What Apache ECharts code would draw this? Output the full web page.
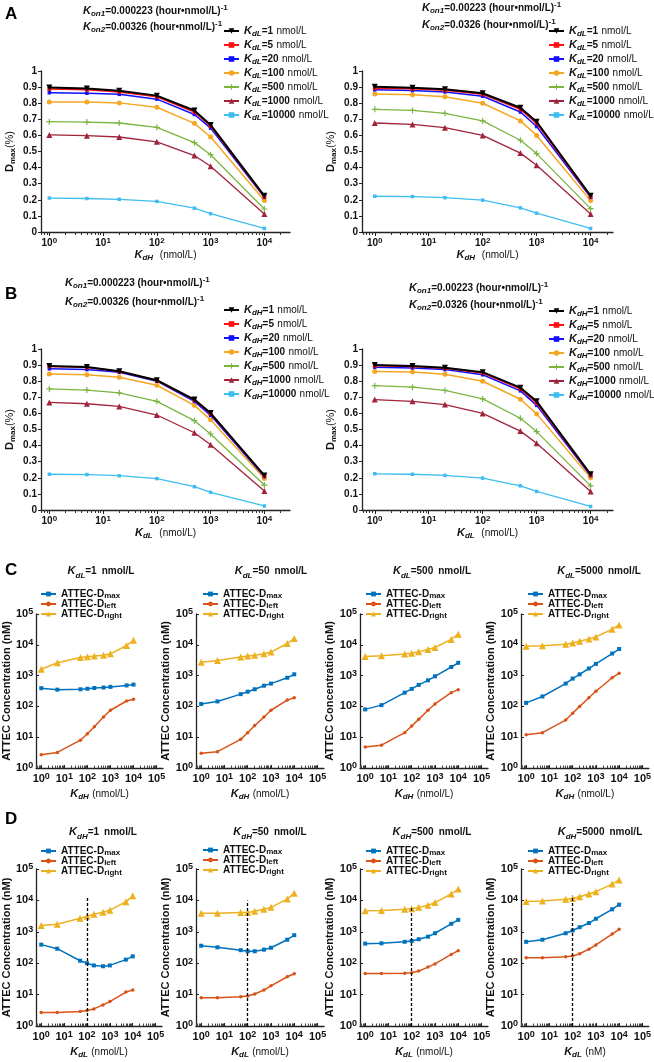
<!DOCTYPE html>
<html><head><meta charset="utf-8">
<script src="https://cdn.jsdelivr.net/npm/echarts@6/dist/echarts.min.js"></script>
<style>html,body{margin:0;padding:0;background:#fff}#c{width:654px;height:1062px}</style>
</head><body><div id="c"></div>
<script>
// ---------------- DATA ----------------
const kdX = [1, 5, 20, 100, 500, 1000, 10000];            // x values, panels A & B
const kdLegendVals = ['1', '5', '20', '100', '500', '1000', '10000'];
const concX = [1, 5, 50, 100, 200, 500, 1000, 5000, 10000]; // x values, panels C & D
const cTitleVals = ['1', '50', '500', '5000'];               // KdL for C
const dTitleVals = ['1', '50', '500', '5000'];               // KdH for D
const konA1 = ['0.000223', '0.00326'];
const konA2 = ['0.00223', '0.0326'];
const konB1 = ['0.000223', '0.00326'];
const konB2 = ['0.00223', '0.0326'];
const dashedKdL = 100;
const dashedTop = [13000, 10000, 6500, 14000];

// Dmax, rows in legend order (1,5,20,100,500,1000,10000)
const A1 = [
  [0.898, 0.892, 0.878, 0.847, 0.755, 0.665, 0.225],
  [0.888, 0.884, 0.870, 0.840, 0.745, 0.658, 0.220],
  [0.865, 0.862, 0.855, 0.825, 0.730, 0.645, 0.215],
  [0.808, 0.808, 0.802, 0.775, 0.675, 0.590, 0.195],
  [0.685, 0.683, 0.677, 0.650, 0.555, 0.480, 0.143],
  [0.603, 0.598, 0.590, 0.560, 0.475, 0.408, 0.112],
  [0.211, 0.208, 0.203, 0.190, 0.148, 0.114, 0.022]
];
const A2 = [
  [0.902, 0.896, 0.886, 0.862, 0.772, 0.685, 0.225],
  [0.893, 0.889, 0.880, 0.855, 0.762, 0.675, 0.220],
  [0.883, 0.879, 0.870, 0.843, 0.745, 0.655, 0.215],
  [0.857, 0.853, 0.840, 0.800, 0.690, 0.600, 0.195],
  [0.762, 0.755, 0.737, 0.690, 0.570, 0.487, 0.145],
  [0.677, 0.668, 0.648, 0.600, 0.490, 0.415, 0.112],
  [0.222, 0.220, 0.213, 0.198, 0.150, 0.117, 0.022]
];
const B1 = [
  [0.895, 0.888, 0.862, 0.806, 0.686, 0.602, 0.215],
  [0.892, 0.886, 0.860, 0.804, 0.683, 0.598, 0.212],
  [0.877, 0.872, 0.855, 0.800, 0.675, 0.588, 0.207],
  [0.845, 0.840, 0.825, 0.775, 0.650, 0.560, 0.195],
  [0.752, 0.745, 0.728, 0.675, 0.555, 0.472, 0.155],
  [0.668, 0.660, 0.643, 0.590, 0.480, 0.405, 0.118],
  [0.222, 0.220, 0.213, 0.195, 0.145, 0.110, 0.025]
];
const B2 = [
  [0.900, 0.895, 0.884, 0.856, 0.760, 0.675, 0.222],
  [0.896, 0.891, 0.880, 0.851, 0.752, 0.665, 0.218],
  [0.887, 0.882, 0.872, 0.840, 0.740, 0.650, 0.213],
  [0.860, 0.857, 0.843, 0.800, 0.688, 0.597, 0.200],
  [0.772, 0.763, 0.743, 0.690, 0.570, 0.487, 0.150],
  [0.686, 0.675, 0.655, 0.600, 0.490, 0.415, 0.115],
  [0.225, 0.222, 0.215, 0.198, 0.150, 0.115, 0.022]
];

// ATTEC concentrations (nM)
const C1_Dmax   = [390, 350, 360, 375, 395, 410, 430, 480, 510];
const C1_Dleft  = [2.7, 3.2, 8, 13, 22, 45, 75, 150, 170];
const C1_Dright = [1600, 2600, 3900, 4100, 4300, 4600, 5100, 9500, 14000];
const C2_Dmax   = [120, 145, 250, 300, 360, 470, 550, 850, 1100];
const C2_Dleft  = [3, 3.4, 8.5, 14, 24, 45, 75, 160, 190];
const C2_Dright = [2700, 3100, 4000, 4300, 4600, 5100, 5800, 11000, 16000];
const C3_Dmax   = [80, 110, 280, 370, 500, 700, 950, 1900, 2600];
const C3_Dleft  = [4.8, 5.5, 14, 23, 38, 75, 120, 280, 350];
const C3_Dright = [4200, 4400, 5000, 5300, 5900, 7000, 8200, 15000, 22000];
const C4_Dmax   = [130, 210, 550, 800, 1100, 1700, 2400, 5200, 7300];
const C4_Dleft  = [12, 14, 36, 60, 100, 190, 310, 850, 1200];
const C4_Dright = [9000, 9300, 10500, 11500, 13000, 15500, 18000, 32000, 44000];
const D1_Dmax   = [390, 290, 120, 100, 85, 80, 85, 130, 165];
const D1_Dleft  = [2.7, 2.7, 2.9, 3.1, 3.5, 4.7, 6, 12, 14];
const D1_Dright = [1600, 1750, 2700, 3100, 3600, 4200, 4900, 9000, 14000];
const D2_Dmax   = [360, 320, 260, 240, 240, 270, 310, 560, 780];
const D2_Dleft  = [8, 8, 8.5, 9, 10.5, 14, 19, 37, 46];
const D2_Dright = [3900, 3900, 4100, 4100, 4500, 5200, 6000, 11000, 17000];
const D3_Dmax   = [420, 430, 480, 510, 580, 700, 900, 1800, 2400];
const D3_Dleft  = [47, 47, 48, 50, 56, 75, 95, 190, 250];
const D3_Dright = [4700, 4800, 5200, 5400, 6000, 7000, 8500, 16000, 23000];
const D4_Dmax   = [480, 560, 900, 1100, 1400, 1900, 2600, 5200, 7300];
const D4_Dleft  = [150, 150, 160, 170, 200, 280, 380, 850, 1200];
const D4_Dright = [9200, 9500, 10800, 11500, 13000, 16000, 19000, 33000, 45000];

// ---------------- STYLE ----------------
const FONT = '"Liberation Sans", Arial, Helvetica, sans-serif';
const TXT = '#111';
const abColors = ['#000000', '#ff1010', '#1010ff', '#f5a623', '#7ab540', '#a1233b', '#3ebdf0'];
const abSym = [
  {s: 'triangle', z: 6, r: 180}, {s: 'rect', z: 4}, {s: 'rect', z: 3.5}, {s: 'circle', z: 5},
  {s: 'path://M4,0h2v4h4v2h-4v4h-2v-4h-4v-2h4z', z: 6}, {s: 'triangle', z: 6}, {s: 'rect', z: 3.5}
];
const abWidth = [2, 1.5, 1.5, 1.5, 1.3, 1.3, 1.3];
const cdColors = ['#0072BD', '#D95319', '#EDB120'];
const cdSym = [{s: 'rect', z: 4}, {s: 'circle', z: 3.5}, {s: 'triangle', z: 7}];

function mkRich(fs, lh, tBold, slhRatio) {
  const sub = Math.round(fs * 0.8);
  const slh = Math.max(1, Math.round(lh * (slhRatio || 0.42)));
  return {
    k: {fontFamily: FONT, fontSize: fs + 1, fontWeight: 'bold', fontStyle: 'italic', color: TXT, lineHeight: lh},
    s: {fontFamily: FONT, fontSize: sub, fontWeight: 'bold', fontStyle: 'italic', color: TXT, lineHeight: slh, verticalAlign: 'bottom'},
    b: {fontFamily: FONT, fontSize: fs, fontWeight: 'bold', color: TXT, lineHeight: lh},
    n: {fontFamily: FONT, fontSize: fs, color: TXT, lineHeight: lh},
    t: {fontFamily: FONT, fontSize: fs, fontWeight: tBold ? 'bold' : 'normal', color: TXT, lineHeight: lh},
    m: {fontFamily: FONT, fontSize: sub, fontWeight: tBold ? 'bold' : 'normal', color: TXT, lineHeight: slh, verticalAlign: 'bottom'},
    p: {fontFamily: FONT, fontSize: sub, fontWeight: 'bold', color: TXT, lineHeight: Math.round(lh * 0.42), verticalAlign: 'top'}
  };
}
function powLabel(v) { const e = Math.round(Math.log10(v)); return '{b|10}{p|' + e + '}'; }
function majors(min, max) { const o = []; for (let e = -2; e <= 7; e++) { const v = Math.pow(10, e); if (v >= min && v <= max) o.push(v); } return o; }
function minors(min, max) { const o = []; for (let e = -2; e <= 7; e++) for (let m = 2; m <= 9; m++) { const v = m * Math.pow(10, e); if (v > min && v < max) o.push(v); } return o; }
function legFmt(name) {
  if (name.indexOf('Kd') === 0) {
    const sub = name.slice(1, 3), v = name.split('=')[1];
    return '{k|K}{s|' + sub + '}{b|=' + v + '} {n|nmol/L}';
  }
  return '{t|ATTEC-D}{m|' + name.slice(1) + '}';
}

const grids = [], xAxes = [], yAxes = [], series = [], legends = [], titles = [];

// panel letters
[['A', 5, 6], ['B', 5, 286], ['C', 5, 562], ['D', 5, 811]].forEach(([t, l, tp]) => {
  titles.push({text: t, left: l, top: tp, padding: 0, textStyle: {fontFamily: FONT, fontSize: 17, fontWeight: 'bold', color: '#000'}});
});

// ---------- Panels A & B ----------
const abPanels = [
  {data: A1, key: 'dL', xsub: 'dH', kon: konA1, grid: {left: 41, top: 71, width: 249, height: 161}, xmin: 0.7, xmax: 30000, leg: [223, 25], konPos: [83, 4, 20]},
  {data: A2, key: 'dL', xsub: 'dH', kon: konA2, grid: {left: 362, top: 71, width: 251, height: 161}, xmin: 0.58, xmax: 26000, leg: [548, 25], konPos: [422, 1, 18]},
  {data: B1, key: 'dH', xsub: 'dL', kon: konB1, grid: {left: 41, top: 349, width: 249, height: 161}, xmin: 0.7, xmax: 30000, leg: [223, 304], konPos: [65, 276, 295]},
  {data: B2, key: 'dH', xsub: 'dL', kon: konB2, grid: {left: 362, top: 349, width: 251, height: 161}, xmin: 0.58, xmax: 26000, leg: [548, 305], konPos: [409, 281, 298]}
];
abPanels.forEach((p) => {
  const gi = grids.length;
  grids.push(p.grid);
  const xi = xAxes.length;
  xAxes.push({
    type: 'log', gridIndex: gi, min: p.xmin, max: p.xmax, position: 'bottom',
    axisLine: {show: true, lineStyle: {color: '#222', width: 1.3}},
    axisTick: {show: true, length: 4, customValues: majors(p.xmin, p.xmax), lineStyle: {color: '#222'}},
    axisLabel: {show: true, customValues: majors(p.xmin, p.xmax), formatter: powLabel, margin: 5, rich: mkRich(10, 12)},
    splitLine: {show: false},
    name: '{k|K}{s|' + p.xsub + '}  {n|(nmol/L)}', nameLocation: 'middle', nameGap: 16,
    nameTextStyle: {rich: mkRich(10, 14, false, 0.3)}
  });
  xAxes.push({
    type: 'log', gridIndex: gi, min: p.xmin, max: p.xmax, position: 'bottom',
    axisLine: {show: false}, axisLabel: {show: false}, splitLine: {show: false},
    axisTick: {show: true, length: 3, customValues: minors(p.xmin, p.xmax), lineStyle: {color: '#333', width: 1}}
  });
  const yi = yAxes.length;
  yAxes.push({
    type: 'value', gridIndex: gi, min: 0, max: 1, interval: 0.1,
    axisLine: {show: true, lineStyle: {color: '#222', width: 1.3}},
    axisTick: {show: true, length: 3, lineStyle: {color: '#222'}},
    axisLabel: {fontFamily: FONT, fontSize: 10, fontWeight: 'bold', color: TXT, margin: 4},
    splitLine: {show: false},
    name: '{b|D}{s|max}{n|(%)}', nameLocation: 'middle', nameGap: 24,
    nameTextStyle: {rich: Object.assign(mkRich(11, 14), {s: {fontFamily: FONT, fontSize: 8, fontWeight: 'bold', color: TXT, lineHeight: 4, verticalAlign: 'bottom'}})}
  });
  const names = [];
  p.data.forEach((row, i) => {
    const nm = 'K' + p.key + '=' + kdLegendVals[i];
    names.push(nm);
    series.push({
      type: 'line', name: nm, xAxisIndex: xi, yAxisIndex: yi,
      data: kdX.map((x, j) => [x, row[j]]),
      symbol: abSym[i].s, symbolSize: abSym[i].z, symbolRotate: abSym[i].r || 0,
      color: abColors[i], lineStyle: {width: abWidth[i], color: abColors[i]},
      itemStyle: {color: abColors[i]}, z: 10 - i, animation: false
    });
  });
  legends.push({
    left: p.leg[0], top: p.leg[1], orient: 'vertical', padding: 0, itemGap: 1,
    itemWidth: 15, itemHeight: 7, selectedMode: false, data: names.slice(),
    formatter: legFmt, textStyle: {rich: mkRich(10, 14, false, 0.3)}
  });
  [0, 1].forEach((k) => {
    titles.push({
      left: p.konPos[0], top: p.konPos[1 + k], padding: 0,
      text: '{k|K}{s|on' + (k + 1) + '}{b|=' + p.kon[k] + ' (hour•}{n|nmol/L)}{p|-1}',
      textStyle: {rich: mkRich(10, 14, false, 0.3)}
    });
  });
});

// ---------- Panels C & D ----------
const cdPanels = [
  {d: [C1_Dmax, C1_Dleft, C1_Dright], left: 35, top: 614, h: 154, tSub: 'dL', tVal: cTitleVals[0], tX: 101, tY: 562, xSub: 'dH', unit: '(nmol/L)', leg: [40, 589], gap: 17},
  {d: [C2_Dmax, C2_Dleft, C2_Dright], left: 196, top: 614, h: 154, tSub: 'dL', tVal: cTitleVals[1], tX: 271, tY: 562, xSub: 'dH', unit: '(nmol/L)', leg: [202, 589], gap: 19},
  {d: [C3_Dmax, C3_Dleft, C3_Dright], left: 360, top: 614, h: 154, tSub: 'dL', tVal: cTitleVals[2], tX: 432, tY: 562, xSub: 'dH', unit: '(nmol/L)', leg: [365, 589], gap: 19},
  {d: [C4_Dmax, C4_Dleft, C4_Dright], left: 521, top: 614, h: 154, tSub: 'dL', tVal: cTitleVals[3], tX: 599, tY: 562, xSub: 'dH', unit: '(nmol/L)', leg: [527, 589], gap: 19},
  {d: [D1_Dmax, D1_Dleft, D1_Dright], left: 34, top: 869, h: 157, tSub: 'dH', tVal: dTitleVals[0], tX: 103, tY: 823, xSub: 'dL', unit: '(nmol/L)', leg: [40, 846], gap: 17, dash: dashedTop[0]},
  {d: [D2_Dmax, D2_Dleft, D2_Dright], left: 196, top: 869, h: 157, tSub: 'dH', tVal: dTitleVals[1], tX: 270, tY: 823, xSub: 'dL', unit: '(nmol/L)', leg: [202, 845], gap: 19, dash: dashedTop[1]},
  {d: [D3_Dmax, D3_Dleft, D3_Dright], left: 360, top: 869, h: 157, tSub: 'dH', tVal: dTitleVals[2], tX: 432, tY: 823, xSub: 'dL', unit: '(nmol/L)', leg: [365, 846], gap: 19, dash: dashedTop[2]},
  {d: [D4_Dmax, D4_Dleft, D4_Dright], left: 521, top: 869, h: 157, tSub: 'dH', tVal: dTitleVals[3], tX: 600, tY: 823, xSub: 'dL', unit: '(nM)', leg: [527, 846], gap: 19, dash: dashedTop[3]}
];
const cdXmin = 0.6, cdXmax = 190000;
cdPanels.forEach((p) => {
  const gi = grids.length;
  grids.push({left: p.left, top: p.top, width: 128, height: p.h});
  const xi = xAxes.length;
  xAxes.push({
    type: 'log', gridIndex: gi, min: cdXmin, max: cdXmax, position: 'bottom',
    axisLine: {show: true, lineStyle: {color: '#222', width: 1.3}},
    axisTick: {show: true, inside: true, length: 3, customValues: majors(cdXmin, cdXmax), lineStyle: {color: '#222'}},
    axisLabel: {show: true, customValues: majors(cdXmin, cdXmax), formatter: powLabel, margin: 4, rich: mkRich(11, 13)},
    splitLine: {show: false},
    name: '{k|K}{s|' + p.xSub + '} {n|' + p.unit + '}', nameLocation: 'middle', nameGap: 19,
    nameTextStyle: {rich: mkRich(10, 14, false, 0.3)}
  });
  xAxes.push({
    type: 'log', gridIndex: gi, min: cdXmin, max: cdXmax, position: 'bottom',
    axisLine: {show: false}, axisLabel: {show: false}, splitLine: {show: false},
    axisTick: {show: true, inside: true, length: 2.5, customValues: minors(cdXmin, cdXmax), lineStyle: {color: '#444', width: 1}}
  });
  const yi = yAxes.length;
  yAxes.push({
    type: 'log', gridIndex: gi, min: 1, max: 100000,
    axisLine: {show: true, lineStyle: {color: '#222', width: 1.3}},
    axisTick: {show: true, inside: true, length: 3, customValues: majors(1, 100000), lineStyle: {color: '#222'}},
    axisLabel: {customValues: majors(1, 100000), formatter: powLabel, margin: 3, rich: mkRich(11, 13)},
    splitLine: {show: false},
    name: 'ATTEC Concentration (nM)', nameLocation: 'middle', nameGap: p.gap,
    nameTextStyle: {fontFamily: FONT, fontSize: 11, fontWeight: 'bold', color: TXT}
  });
  const names = [];
  p.d.forEach((arr, i) => {
    const nm = 'D' + ['max', 'left', 'right'][i];
    names.push(nm);
    const s = {
      type: 'line', name: nm, xAxisIndex: xi, yAxisIndex: yi,
      data: concX.map((x, j) => [x, arr[j]]),
      symbol: cdSym[i].s, symbolSize: cdSym[i].z, color: cdColors[i],
      lineStyle: {width: 1.5, color: cdColors[i]}, itemStyle: {color: cdColors[i]}, animation: false
    };
    if (p.dash && i === 2) {
      s.markLine = {
        silent: true, symbol: ['none', 'none'], label: {show: false}, animation: false,
        lineStyle: {color: '#000', type: [3, 2], width: 1.3},
        data: [[{coord: [dashedKdL, 1]}, {coord: [dashedKdL, p.dash]}]]
      };
    }
    series.push(s);
  });
  legends.push({
    left: p.leg[0], top: p.leg[1], orient: 'vertical', padding: 0, itemGap: -1,
    itemWidth: 15, itemHeight: 6, selectedMode: false, data: names.slice(),
    formatter: legFmt, textStyle: {rich: mkRich(10, 12, true, 0.15)}
  });
  titles.push({
    left: p.tX, top: p.tY, textAlign: 'center', padding: 0,
    text: '{k|K}{s|' + p.tSub + '}{b|=' + p.tVal + '} {n|nmol/L}',
    textStyle: {rich: mkRich(10, 14, false, 0.3)}
  });
});

const chart = echarts.init(document.getElementById('c'), null, {renderer: 'canvas'});
chart.setOption({
  animation: false, backgroundColor: '#fff',
  title: titles, grid: grids, xAxis: xAxes, yAxis: yAxes, legend: legends, series: series
});
</script></body></html>
